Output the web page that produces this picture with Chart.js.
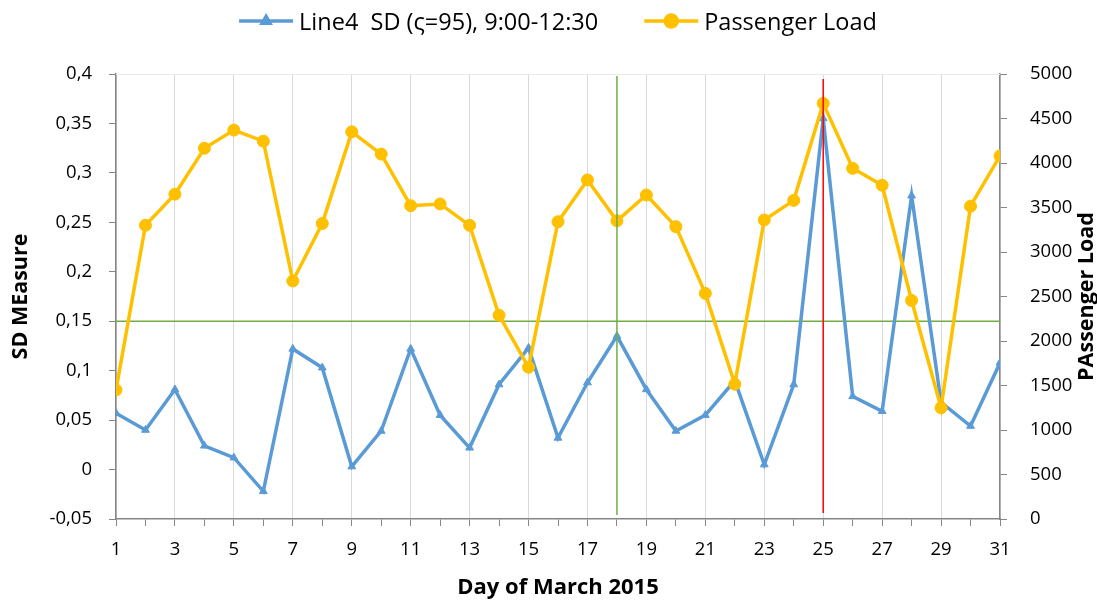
<!DOCTYPE html>
<html>
<head>
<meta charset="utf-8">
<script src="https://cdn.jsdelivr.net/npm/chart.js@4.4.1/dist/chart.umd.min.js"></script>
<style>
    html, body { margin: 0; padding: 0; background: #ffffff; }
    #wrap { width: 1097px; height: 603px; }
</style>
</head>
<body>
<div id="wrap"><canvas id="sdChart" width="1097" height="603"></canvas></div>
<script>
// Days of March 2015
const days = [1, 2, 3, 4, 5, 6, 7, 8, 9, 10, 11, 12, 13, 14, 15, 16, 17, 18, 19, 20,
    21, 22, 23, 24, 25, 26, 27, 28, 29, 30, 31];

// Line4 SD measure (left axis)
const sdValues = [0.057, 0.040, 0.081, 0.024, 0.012, -0.022, 0.122, 0.103, 0.003, 0.039,
    0.122, 0.055, 0.022, 0.086, 0.123, 0.032, 0.088, 0.135, 0.081, 0.039,
    0.055, 0.090, 0.005, 0.086, 0.355, 0.074, 0.059, 0.277, 0.068, 0.044, 0.108];

// Passenger load (right axis)
const loadValues = [1450, 3300, 3650, 4165, 4370, 4245, 2675, 3320, 4350, 4100,
    3520, 3540, 3300, 2290, 1705, 3340, 3810, 3350, 3640, 3285,
    2535, 1515, 3360, 3580, 4670, 3940, 3750, 2455, 1250, 3515, 4080];

const sdLabel = "Line4  SD (\u03C2=95), 9:00-12:30";
const loadLabel = "Passenger Load";

const sdTickValues = [-0.05, 0, 0.05, 0.1, 0.15, 0.2, 0.25, 0.3, 0.35, 0.4];
const sdTickLabels = ["-0,05", "0", "0,05", "0,1", "0,15", "0,2", "0,25", "0,3", "0,35", "0,4"];
const loadTickValues = [0, 500, 1000, 1500, 2000, 2500, 3000, 3500, 4000, 4500, 5000];
const loadTickLabels = ["0", "500", "1000", "1500", "2000", "2500", "3000", "3500", "4000", "4500", "5000"];

// reference lines
const sdThreshold = 0.15;
const markedDays = [18, 25];

const FONT = '"Open Sans", "Noto Sans", sans-serif';

// horizontal threshold, vertical day markers, legend and right-hand axis title
const extras = {
    id: "extras",
    beforeDatasetsDraw(chart) {
        const { ctx, chartArea: a, scales } = chart;
        ctx.save();
        ctx.strokeStyle = "#EBEBEB";
        ctx.lineWidth = 1;
        ctx.beginPath();
        ctx.moveTo(a.left, a.top + 0.5);
        ctx.lineTo(a.right, a.top + 0.5);
        ctx.stroke();
        const y = scales.ySD.getPixelForValue(sdThreshold);
        ctx.strokeStyle = "#70AD47";
        ctx.lineWidth = 1.5;
        ctx.beginPath();
        ctx.moveTo(a.left, y);
        ctx.lineTo(a.right, y);
        ctx.stroke();
        ctx.restore();
    },
    afterDatasetsDraw(chart) {
        const { ctx, scales } = chart;
        const colors = ["#70AD47", "#FF0000"];
        const tops = [0.398, 0.395];
        const bottoms = [-0.046, -0.044];
        ctx.save();
        ctx.lineWidth = 1.5;
        markedDays.forEach((d, i) => {
            const x = scales.x.getPixelForValue(d);
            ctx.strokeStyle = colors[i];
            ctx.beginPath();
            ctx.moveTo(x, scales.ySD.getPixelForValue(tops[i]));
            ctx.lineTo(x, scales.ySD.getPixelForValue(bottoms[i]));
            ctx.stroke();
        });
        ctx.restore();
    },
    afterDraw(chart) {
        const { ctx, chartArea: a, scales } = chart;
        ctx.save();

        // legend
        ctx.font = "23.5px " + FONT;
        const lineW = 54, gap = 6, itemGap = 46;
        const items = [chart.data.datasets[0], chart.data.datasets[1]];
        let total = 0;
        items.forEach((ds, i) => {
            total += lineW + gap + ctx.measureText(ds.label).width + (i ? 0 : itemGap);
        });
        let x = (a.left + a.right) / 2 - total / 2;
        const ly = 21;
        items.forEach(ds => {
            ctx.strokeStyle = ds.borderColor;
            ctx.fillStyle = ds.borderColor;
            ctx.lineWidth = 3.5;
            ctx.beginPath();
            ctx.moveTo(x, ly);
            ctx.lineTo(x + lineW, ly);
            ctx.stroke();
            Chart.helpers.drawPoint(ctx, {
                pointStyle: ds.pointStyle, radius: ds.pointRadius, borderWidth: 1, rotation: 0
            }, x + lineW / 2, ly);
            ctx.fillStyle = "#000000";
            ctx.textAlign = "left";
            ctx.textBaseline = "alphabetic";
            ctx.fillText(ds.label, x + lineW + gap, 30);
            x += lineW + gap + ctx.measureText(ds.label).width + itemGap;
        });

        // right axis title, reading upwards
        const r = scales.yLoad;
        ctx.font = "bold 21.5px " + FONT;
        ctx.fillStyle = "#000000";
        ctx.translate(r.right - 4, (a.top + a.bottom) / 2);
        ctx.rotate(-Math.PI / 2);
        ctx.textAlign = "center";
        ctx.textBaseline = "alphabetic";
        ctx.fillText("PAssenger Load", 0, 0);
        ctx.restore();
    }
};

const sdPoints = days.map((d, i) => ({ x: d, y: sdValues[i] }));
const loadPoints = days.map((d, i) => ({ x: d, y: loadValues[i] }));

new Chart(document.getElementById("sdChart").getContext("2d"), {
    type: "line",
    data: {
        datasets: [{
            label: sdLabel,
            data: sdPoints,
            yAxisID: "ySD",
            borderColor: "#5B9BD5",
            backgroundColor: "#5B9BD5",
            borderWidth: 3.5,
            pointStyle: "triangle",
            pointRadius: 4.5,
            pointBorderWidth: 1,
            pointBackgroundColor: "#5B9BD5",
            pointBorderColor: "#5B9BD5",
            tension: 0,
            order: 1
        }, {
            label: loadLabel,
            data: loadPoints,
            yAxisID: "yLoad",
            borderColor: "#FFC000",
            backgroundColor: "#FFC000",
            borderWidth: 3.5,
            pointStyle: "circle",
            pointRadius: 6,
            pointBorderWidth: 1,
            pointBackgroundColor: "#FFC000",
            pointBorderColor: "#FFC000",
            tension: 0,
            order: 0
        }]
    },
    options: {
        responsive: false,
        animation: false,
        devicePixelRatio: 1,
        layout: { padding: { top: 74, right: 0, bottom: 0, left: 0 } },
        plugins: {
            legend: { display: false },
            tooltip: { enabled: false }
        },
        scales: {
            x: {
                type: "linear",
                position: "bottom",
                min: 1,
                max: 31,
                afterBuildTicks: s => { s.ticks = days.map(v => ({ value: v })); },
                afterFit: s => { s.height = 84; },
                ticks: {
                    autoSkip: false,
                    maxRotation: 0,
                    padding: 13,
                    color: "#000000",
                    font: { family: FONT, size: 18.5 },
                    callback: v => (v % 2 === 1 ? String(v) : "")
                },
                grid: {
                    color: c => (c.tick && c.tick.value % 2 === 1 ? "#D9D9D9" : "rgba(0,0,0,0)"),
                    tickColor: "#868686",
                    tickLength: 7,
                    lineWidth: 1
                },
                border: { color: "#868686", width: 1.5 },
                title: {
                    display: true,
                    text: "Day of March 2015",
                    color: "#000000",
                    font: { family: FONT, size: 22, weight: "bold" },
                    padding: { top: 0, bottom: 2 }
                }
            },
            ySD: {
                type: "linear",
                position: "left",
                min: -0.05,
                max: 0.4,
                afterBuildTicks: s => { s.ticks = sdTickValues.map(v => ({ value: v })); },
                afterFit: s => { s.width = 116; },
                ticks: {
                    padding: 17,
                    color: "#000000",
                    font: { family: FONT, size: 18.5 },
                    callback: (v, i) => sdTickLabels[i]
                },
                grid: {
                    drawOnChartArea: false,
                    tickColor: "#868686",
                    tickLength: 7
                },
                border: { color: "#868686", width: 1.5 },
                title: {
                    display: true,
                    text: "SD MEasure",
                    color: "#000000",
                    font: { family: FONT, size: 21.5, weight: "bold" },
                    padding: { top: 8, bottom: 0 }
                }
            },
            yLoad: {
                type: "linear",
                position: "right",
                min: 0,
                max: 5000,
                afterBuildTicks: s => { s.ticks = loadTickValues.map(v => ({ value: v })); },
                afterFit: s => { s.width = 97; },
                ticks: {
                    padding: 23,
                    color: "#000000",
                    font: { family: FONT, size: 18.5 },
                    callback: (v, i) => loadTickLabels[i]
                },
                grid: {
                    drawOnChartArea: false,
                    tickColor: "#868686",
                    tickLength: 7
                },
                border: { color: "#868686", width: 1.5 }
            }
        }
    },
    plugins: [extras]
});
</script>
</body>
</html>
